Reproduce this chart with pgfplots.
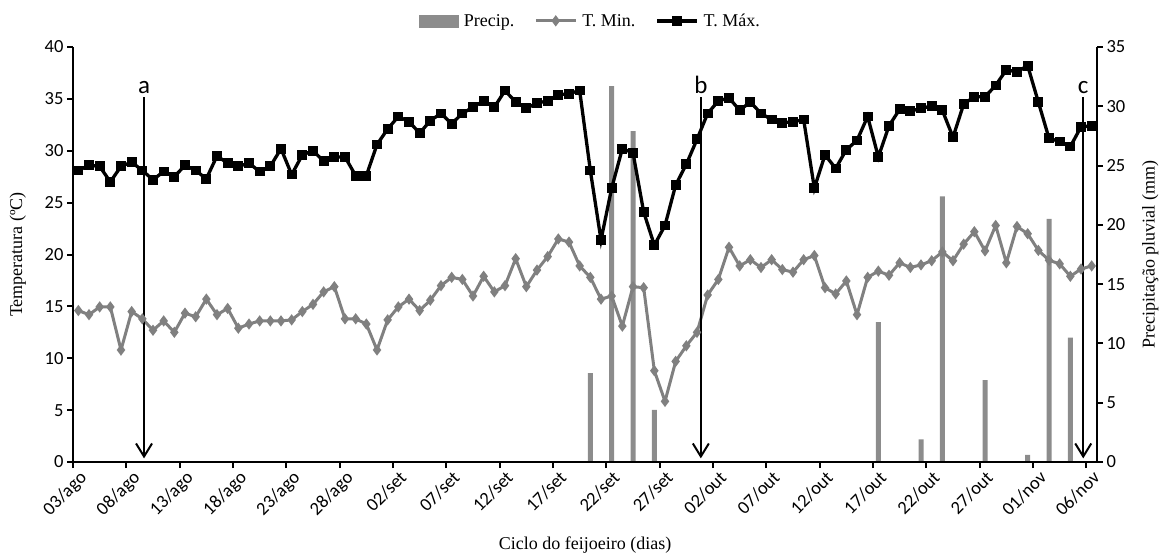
\documentclass[border=0pt]{standalone}
\usepackage{fontspec}
\setmainfont{Liberation Serif}
\newfontfamily\carlito{Carlito}
\usepackage{pgfplots}
\usepackage{pgfplotstable}
\pgfplotsset{compat=1.18}
\usetikzlibrary{arrows.meta}
\definecolor{tmincol}{RGB}{128,128,128}
\definecolor{barcol}{RGB}{140,140,140}

\pgfplotstableread{
d tmax tmin
0 28.1 14.6
1 28.6 14.2
2 28.5 14.95
3 27.0 14.95
4 28.5 10.8
5 28.9 14.5
6 28.1 13.8
7 27.2 12.7
8 28.0 13.6
9 27.5 12.5
10 28.6 14.35
11 28.1 14.0
12 27.3 15.7
13 29.5 14.2
14 28.8 14.8
15 28.5 12.9
16 28.8 13.3
17 28.0 13.6
18 28.5 13.6
19 30.2 13.6
20 27.7 13.7
21 29.6 14.5
22 30.0 15.2
23 29.0 16.4
24 29.4 16.9
25 29.4 13.8
26 27.6 13.8
27 27.6 13.3
28 30.6 10.8
29 32.1 13.7
30 33.3 14.95
31 32.8 15.7
32 31.7 14.6
33 32.9 15.6
34 33.6 17.0
35 32.6 17.8
36 33.6 17.6
37 34.2 16.0
38 34.8 17.9
39 34.2 16.4
40 35.8 17.0
41 34.7 19.6
42 34.1 16.9
43 34.6 18.5
44 34.8 19.8
45 35.4 21.5
46 35.5 21.2
47 35.8 18.9
48 28.1 17.8
49 21.4 15.7
50 26.4 16.0
51 30.2 13.1
52 29.8 16.9
53 24.1 16.8
54 20.9 8.8
55 22.8 5.85
56 26.7 9.7
57 28.7 11.2
58 31.1 12.5
59 33.6 16.1
60 34.8 17.6
61 35.1 20.7
62 33.9 18.9
63 34.7 19.5
64 33.6 18.75
65 33.0 19.5
66 32.7 18.55
67 32.8 18.3
68 33.0 19.5
69 26.4 19.9
70 29.6 16.8
71 28.3 16.2
72 30.1 17.45
73 31.0 14.2
74 33.3 17.8
75 29.4 18.4
76 32.4 18.0
77 34.0 19.2
78 33.8 18.75
79 34.1 19.0
80 34.3 19.4
81 33.9 20.25
82 31.3 19.4
83 34.5 21.0
84 35.2 22.2
85 35.2 20.35
86 36.3 22.8
87 37.8 19.2
88 37.6 22.7
89 38.2 22.0
90 34.7 20.4
91 31.2 19.45
92 30.9 19.1
93 30.4 17.9
94 32.3 18.6
95 32.4 18.9
}\temps

\pgfplotstableread{
d p
48 7.5
50 31.7
52 27.9
54 4.4
75 11.8
79 1.9
81 22.4
85 6.9
89 0.6
91 20.5
93 10.5
}\precip

\begin{document}
\begin{tikzpicture}
\pgfplotsset{
  base/.style={
    width=1024pt, height=415pt, scale only axis,
    xmin=-0.5, xmax=95.5,
    axis line style={-, line width=2.5pt, black},
    major tick length=6pt, minor tick length=6pt,
    tick align=outside,
    tick style={line width=2pt, black},
    ticklabel style={font=\carlito\fontsize{18.5}{18.5}\selectfont},
    /pgf/number format/assume math mode=true,
    clip=false,
  }
}
\begin{axis}[base,
  axis x line=none, axis y line*=right,
  ymin=0, ymax=35, ytick={0,5,...,35},
  ylabel={Precipitação pluvial (mm)},
  ylabel style={at={(axis description cs:1.052,0.5)}, anchor=center, font=\fontsize{18}{18}\selectfont},
]
\addplot[ybar, bar width=5pt, fill=barcol, draw=none] table[x=d,y=p]{\precip};
\end{axis}
\begin{axis}[base,
  axis x line*=bottom, axis y line*=left,
  ymin=0, ymax=40, ytick={0,5,...,40},
  xtick={0,5,...,95},
  xticklabels={03/ago,08/ago,13/ago,18/ago,23/ago,28/ago,02/set,07/set,12/set,17/set,22/set,27/set,02/out,07/out,12/out,17/out,22/out,27/out,01/nov,06/nov},
  major x tick style={draw=none},
  minor xtick={-0.5,4.5,...,94.5},
  xticklabel style={rotate=45, anchor=north east, inner sep=1pt},
  ylabel={Temperatura (ºC)},
  ylabel style={at={(axis description cs:-0.054,0.5)}, anchor=center, font=\fontsize{18}{18}\selectfont},
  xlabel={Ciclo do feijoeiro (dias)},
  xlabel style={at={(axis description cs:0.5,-0.2)}, anchor=center, font=\fontsize{18}{18}\selectfont},
  legend style={at={(axis description cs:0.505,1.063)}, anchor=center, draw=none, fill=none,
    legend columns=3, font=\fontsize{18}{18}\selectfont,
    nodes={inner sep=1pt},
    /tikz/every odd column/.append style={column sep=4pt},
    /tikz/every even column/.append style={column sep=19pt}},
  legend image code/.code={\draw[mark repeat=2,mark phase=2,#1] plot coordinates {(0pt,0pt) (20pt,0pt) (40pt,0pt)};},
]
\coordinate (SW) at (rel axis cs:0,0);
\coordinate (NE) at (rel axis cs:1,1);
\addlegendimage{legend image code/.code={\fill[barcol] (0pt,-6pt) rectangle (39pt,6pt);}}
\addlegendentry{Precip.}
\addplot[tmincol, line width=3pt, mark=diamond*, mark size=3.2pt, mark options={solid}] table[x=d,y=tmin]{\temps};
\addlegendentry{T. Min.}
\addplot[black, line width=3.3pt, mark=square*, mark size=3.2pt, mark options={solid}] table[x=d,y=tmax]{\temps};
\addlegendentry{T. Máx.}
\foreach \xx/\lab in {6.16/a, 58.36/b, 94.21/c}{
  \edef\tmp{\noexpand\draw[line width=2pt, -{Straight Barb[length=13pt, width=16pt, line width=2pt]}] (axis cs:\xx,35.14) -- (axis cs:\xx,0.35);
  \noexpand\node[font=\noexpand\carlito\noexpand\fontsize{25}{25}\noexpand\selectfont, anchor=base, inner sep=0pt] at (axis cs:\xx,35.55) {\lab};}
  \tmp
}
\end{axis}
\pgfresetboundingbox
\path[use as bounding box] ([shift={(-73pt,-94pt)}]SW) rectangle ([shift={(66pt,47pt)}]NE);
\end{tikzpicture}
\end{document}
